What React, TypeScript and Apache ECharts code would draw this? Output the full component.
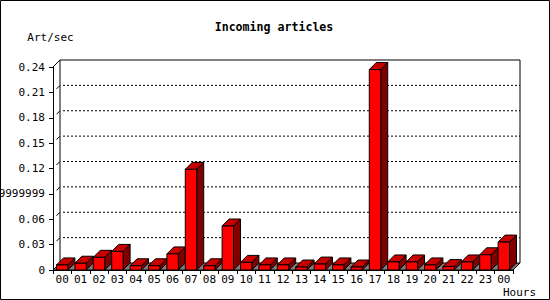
import React, { useEffect, useRef } from "react";
import * as echarts from "echarts";

const HOURS = ["00","01","02","03","04","05","06","07","08","09","10","11","12","13","14","15","16","17","18","19","20","21","22","23","00"];
const ARTICLES = [0.006,0.008,0.015,0.022,0.005,0.005,0.019,0.119,0.005,0.052,0.009,0.006,0.006,0.0035,0.007,0.006,0.0035,0.237,0.0095,0.0095,0.006,0.004,0.0095,0.018,0.033];
const Y_TICKS = [0,0.03,0.06,0.09,0.12,0.15,0.18,0.21,0.24];
const Y_LABELS = ["0","0.03","0.06","0.0899999999","0.12","0.15","0.18","0.21","0.24"];

const MONO = "DejaVu Sans Mono";
const D = 7;

export default function App() {
  const ref = useRef<HTMLDivElement>(null);
  useEffect(() => {
    if (!ref.current) return;
    const chart = echarts.init(ref.current, null, { renderer: "svg" });
    const frameRender = (params: any, api: any) => {
      const cs = params.coordSys;
      const x0 = cs.x, x1 = cs.x + cs.width;
      const yTop = cs.y, yBot = cs.y + cs.height;
      const children: any[] = [];
      children.push({
        type: "polygon",
        shape: { points: [[x0, yBot], [x1, yBot], [x1 + D, yBot - D], [x0 + D, yBot - D]] },
        style: { fill: "#808080", stroke: "#000", lineWidth: 1 },
      });
      children.push({
        type: "polyline",
        shape: { points: [[x0 + D, yBot - D], [x0 + D, yTop - D], [x1 + D, yTop - D], [x1 + D, yBot - D]] },
        style: { fill: "none", stroke: "#000", lineWidth: 1 },
      });
      children.push({
        type: "line",
        shape: { x1: x0, y1: yTop, x2: x0 + D, y2: yTop - D },
        style: { stroke: "#000", lineWidth: 1 },
      });
      Y_TICKS.forEach((v, i) => {
        if (i === 0 || i === Y_TICKS.length - 1) return;
        const y = api.coord([0, v])[1];
        children.push({
          type: "line",
          shape: { x1: x0 + D + 3, y1: y - D, x2: x1 + D, y2: y - D },
          style: { stroke: "#000", lineWidth: 1, lineDash: [2, 2] },
        });
        children.push({
          type: "line",
          shape: { x1: x0 + 3.5, y1: y - 3.5, x2: x0 + D, y2: y - D },
          style: { stroke: "#000", lineWidth: 1 },
        });
      });
      return { type: "group", children };
    };
    const barRender = (params: any, api: any) => {
      const idx = api.value(0);
      const val = api.value(1);
      const top = api.coord([idx, val]);
      const bot = api.coord([idx, 0]);
      const band = api.size([1, 0])[0];
      const w = band * 0.62;
      const l = top[0] - w / 2, r = top[0] + w / 2;
      const ty = top[1], by = bot[1];
      return {
        type: "group",
        children: [
          {
            type: "polygon",
            shape: { points: [[r, ty], [r + D, ty - D], [r + D, by - D], [r, by]] },
            style: { fill: "#800000", stroke: "#000", lineWidth: 1 },
          },
          {
            type: "polygon",
            shape: { points: [[l, ty], [r, ty], [r + D, ty - D], [l + D, ty - D]] },
            style: { fill: "#C80000", stroke: "#000", lineWidth: 1 },
          },
          {
            type: "rect",
            shape: { x: l, y: ty, width: w, height: by - ty },
            style: { fill: "#FF0000", stroke: "#000", lineWidth: 1 },
          },
        ],
      };
    };
    chart.setOption({
      animation: false,
      backgroundColor: "#fff",
      grid: { left: 53, top: 67, width: 460, height: 203, containLabel: false, outerBoundsMode: "none" },
      xAxis: {
        type: "category",
        data: HOURS,
        boundaryGap: true,
        axisLine: { show: true, lineStyle: { color: "#000", width: 1 } },
        axisTick: { show: true, length: 4, lineStyle: { color: "#000" } },
        axisLabel: { interval: 0, color: "#000", fontFamily: MONO, fontSize: 11, margin: 4 },
        splitLine: { show: false },
      },
      yAxis: {
        type: "value",
        min: 0,
        max: 0.24,
        interval: 0.03,
        axisLine: { show: true, lineStyle: { color: "#000", width: 1 } },
        axisTick: { show: true, length: 4, lineStyle: { color: "#000" } },
        axisLabel: {
          color: "#000",
          fontFamily: MONO,
          fontSize: 11,
          margin: 8,
          formatter: (v: number) => {
            const i = Y_TICKS.findIndex((t) => Math.abs(t - v) < 1e-9);
            return i >= 0 ? Y_LABELS[i] : "";
          },
        },
        splitLine: { show: false },
      },
      graphic: [
        {
          type: "rect",
          shape: { x: 0.5, y: 0.5, width: 549, height: 299 },
          style: { fill: "none", stroke: "#000", lineWidth: 1 },
          z: 100,
        },
        {
          type: "text",
          x: 274,
          y: 27,
          style: { text: "Incoming articles", fontFamily: MONO, fontWeight: "bold", fontSize: 11.6, fill: "#000", textAlign: "center", textVerticalAlign: "middle" },
        },
        {
          type: "text",
          x: 50.5,
          y: 37,
          style: { text: "Art/sec", fontFamily: MONO, fontSize: 11, fill: "#000", textAlign: "center", textVerticalAlign: "middle" },
        },
        {
          type: "text",
          x: 519.5,
          y: 292,
          style: { text: "Hours", fontFamily: MONO, fontSize: 11, fill: "#000", textAlign: "center", textVerticalAlign: "middle" },
        },
      ],
      series: [
        {
          type: "custom",
          renderItem: frameRender,
          data: [[0, 0]],
          z: 1,
          silent: true,
        },
        {
          type: "custom",
          renderItem: barRender,
          data: ARTICLES.map((v, i) => [i, v]),
          encode: { x: 0, y: 1 },
          z: 2,
        },
      ],
    });
    return () => chart.dispose();
  }, []);
  return <div ref={ref} style={{ position: "absolute", left: 0, top: 0, width: 550, height: 300 }} />;
}
